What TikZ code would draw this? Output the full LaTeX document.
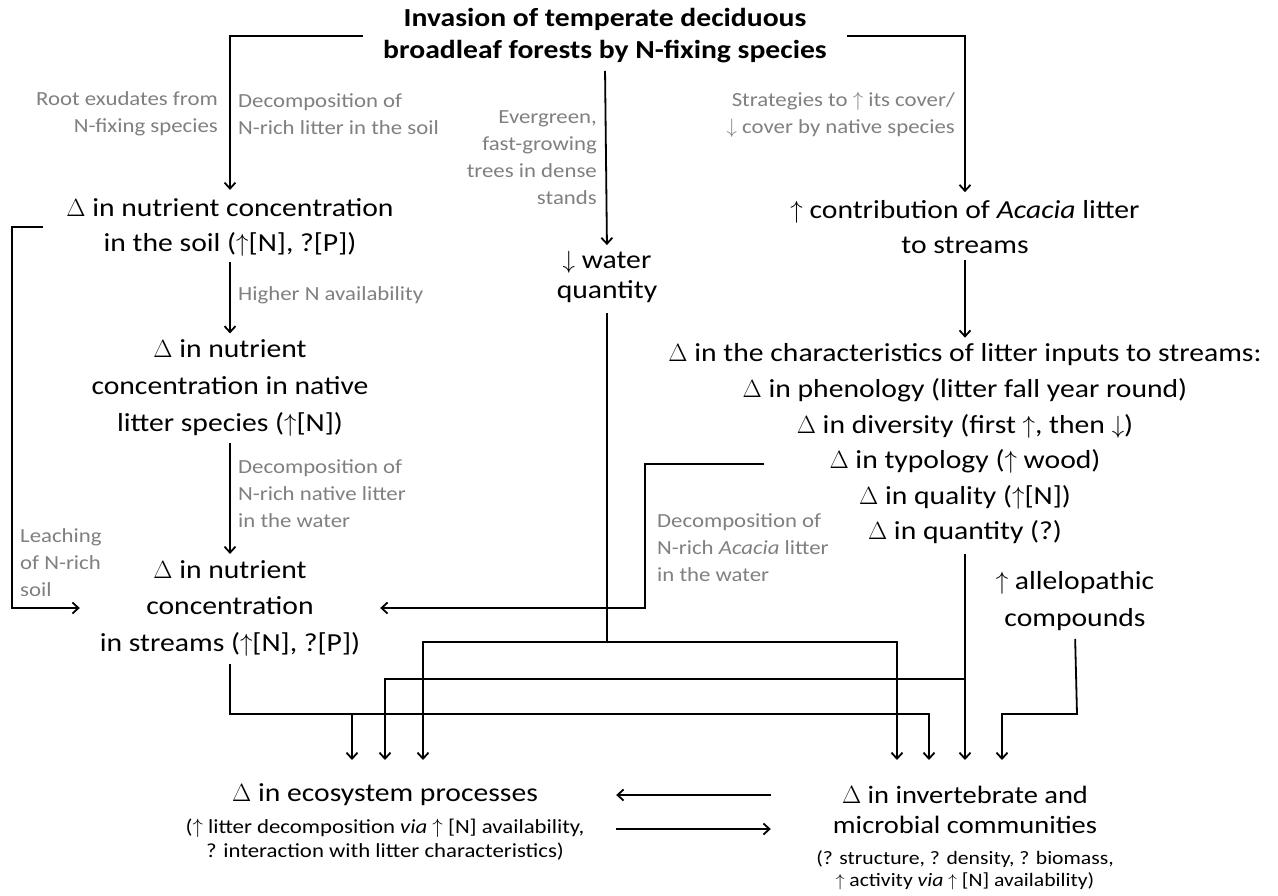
\documentclass[tikz,border=0pt]{standalone}
\usepackage{fontspec}
\setmainfont{Carlito}[FakeStretch=1.14]
\usetikzlibrary{arrows.meta}
\newcommand{\upa}{$\uparrow$}
\newcommand{\dna}{$\downarrow$}
\begin{document}
\begin{tikzpicture}[x=1pt,y=-1pt,
	main/.style={align=flush center, font=\fontsize{26}{35}\selectfont, inner sep=2pt},
	lbl/.style={text=gray, font=\fontsize{20}{27}\selectfont, inner sep=0pt},
	sub/.style={align=flush center, font=\fontsize{20}{24}\selectfont, inner sep=0pt},
	arr/.style={-{Straight Barb[length=6pt,width=11pt]}, line width=1.8pt},
	line/.style={line width=1.8pt}]

	%Background
	\useasboundingbox[fill=white] (0,0) rectangle (1278,895);

	%Title
	\node[align=center, font=\fontsize{26}{32}\selectfont\bfseries, inner xsep=20pt] (title) at (605,36) {Invasion of temperate deciduous\\broadleaf forests by N-fixing species};

	%Left column
	\node[main] (soil) at (230,227) {$\Delta$ in nutrient concentration\\in the soil (\upa[N], ?[P])};
	\node[main, font=\fontsize{26}{37}\selectfont] (native) at (230,388) {$\Delta$ in nutrient\\concentration in native\\litter species (\upa[N])};
	\node[main, text width=296pt, font=\fontsize{26}{36.5}\selectfont] (streams) at (230,608) {$\Delta$ in nutrient\\concentration\\in streams (\upa[N], ?[P])};

	%Middle
	\node[main, font=\fontsize{26}{30}\selectfont] (water) at (607,277) {\dna{} water\\quantity};

	%Right column
	\node[main] (acacia) at (965,227) {\upa{} contribution of \textit{Acacia} litter\\to streams};
	\node[main, font=\fontsize{26}{35.6}\selectfont] (chars) at (965,444) {$\Delta$ in the characteristics of litter inputs to streams:\\$\Delta$ in phenology (litter fall year round)\\$\Delta$ in diversity (first \upa, then \dna)\\$\Delta$ in typology (\upa{} wood)\\$\Delta$ in quality (\upa[N])\\$\Delta$ in quantity (?)};
	\node[main, font=\fontsize{26}{37}\selectfont] (allelo) at (1075,601) {\upa{} allelopathic\\compounds};
	\coordinate (typo) at (764,464);

	%Bottom
	\node[main, text width=458pt] (ecot) at (385,795) {$\Delta$ in ecosystem processes};
	\node[sub] (ecos) at (385,840) {(\upa{} litter decomposition \textit{via} \upa{} [N] availability,\\? interaction with litter characteristics)};
	\node[main, text width=384pt, font=\fontsize{25}{30}\selectfont] (invt) at (965,810) {$\Delta$ in invertebrate and\\microbial communities};
	\node[sub, font=\fontsize{19}{22}\selectfont] (invs) at (965,870) {(? structure, ? density, ? biomass,\\\upa{} activity \textit{via} \upa{} [N] availability)};

	%Arrow tips
	\coordinate (e1) at (352,760);
	\coordinate (e2) at (385,760);
	\coordinate (e3) at (423,760);
	\coordinate (i1) at (897,760);
	\coordinate (i2) at (929,760);
	\coordinate (i3) at (965,760);
	\coordinate (i4) at (1002,760);

	%Labels
	\node[lbl, anchor=east, align=right] (lroot) at (218,114) {Root exudates from\\N-fixing species};
	\node[lbl, anchor=west, align=left] (ldecsoil) at (238,114) {Decomposition of\\N-rich litter in the soil};
	\node[lbl, anchor=east, align=right] (lever) at (597,158) {Evergreen,\\fast-growing\\trees in dense\\stands};
	\node[lbl, anchor=east, align=right] (lstrat) at (955,115) {Strategies to \upa{} its cover/\\\dna{} cover by native species};
	\node[lbl, anchor=west, align=left] (lhigh) at (238,295) {Higher N availability};
	\node[lbl, anchor=west, align=left] (ldecnat) at (238,494) {Decomposition of\\N-rich native litter\\in the water};
	\node[lbl, anchor=west, align=left] (lleach) at (20,563) {Leaching\\of N-rich\\soil};
	\node[lbl, anchor=west, align=left] (ldecac) at (657,548) {Decomposition of\\N-rich \textit{Acacia} litter\\in the water};

	%Connectors
	\draw[arr, shorten >=6pt] (title.west) -| (soil.north);
	\draw[arr, shorten >=6pt] (title.east) -| (acacia.north);
	\draw[arr, shorten <=4pt, shorten >=4pt] (title.south) -- (water.north);
	\draw[arr, shorten <=4pt, shorten >=4pt] (soil.south) -- (native.north);
	\draw[arr, shorten <=4pt, shorten >=4pt] (native.south) -- (streams.north);
	\draw[arr] ([xshift=-21pt]soil.west) -- ++(-31,0) |- (streams.west);
	\draw[arr, shorten <=4pt, shorten >=4pt] (acacia.south) -- (chars.north);
	\draw[arr] (typo) -- (645,464) |- (streams.east);

	\draw[arr, shorten <=8pt] (water.south) -- (607,642) -| (e3);
	\draw[arr] (607,642) -| (i1);
	\draw[arr, shorten <=8pt] (chars.south) -- (i3);
	\draw[arr] (965,679) -| (e2);
	\draw[arr, shorten <=6pt] (streams.south) -- (230,714) -| (i2);
	\draw[arr] (352,714) -- (e1);
	\draw[arr, shorten <=6pt] (allelo.south) -- (1077,714) -| (i4);

	\draw[arr] (invt.west |- ecot.east) -- (ecot.east);
	\draw[arr] ([yshift=-34pt]ecot.east) -- ([yshift=-34pt]invt.west |- ecot.east);

\end{tikzpicture}
\end{document}
